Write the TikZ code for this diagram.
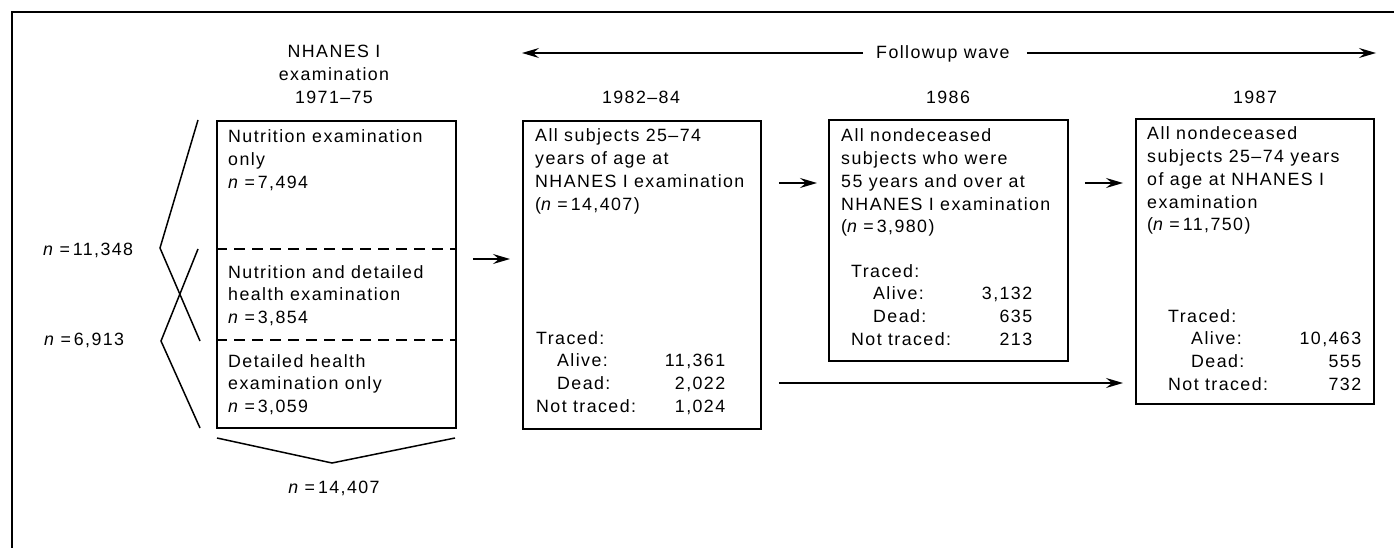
\documentclass[tikz,border=0pt]{standalone}
\usepackage{fontspec}
\setmainfont{Liberation Sans}[LetterSpace=8]
\usetikzlibrary{arrows.meta}
\newcommand\nval[1]{\textit{n}\hspace{5pt}=\hspace{3pt}#1}
\begin{document}
\begin{tikzpicture}[x=1pt,y=-1pt,
  txt/.style={inner sep=0pt, font=\fontsize{17.8pt}{22.7pt}\selectfont},
  box/.style={draw, line width=1.8pt, fill=white, anchor=north west, inner sep=0pt},
  ln/.style={line width=1.5pt},
  arr/.style={line width=1.5pt, -{Stealth[length=17pt,width=10pt,inset=6pt]}},
  dsh/.style={line width=1.3pt, dash pattern=on 11pt off 7pt}]
\useasboundingbox (0,0) rectangle (1394,548);
% frame
\draw[line width=2pt] (12,548) -- (12,12) -- (1394,12);

% headings
\node[txt, anchor=base] (h1) at (334,58) {\begin{tabular}[t]{@{}c@{}}NHANES I\\ examination\\ 1971–75\end{tabular}};
\node[txt, anchor=base] (h2) at (641,104) {1982–84};
\node[txt, anchor=base] (h3) at (948,104) {1986};
\node[txt, anchor=base] (h4) at (1255,104) {1987};
\node[txt, anchor=base west] (fw) at (876,59) {Followup wave};
\coordinate (fwl) at (522,53);
\coordinate (fwr) at (1376,53);
\draw[arr] ([xshift=-13pt]fw.west |- fwl) -- (fwl);
\draw[arr] ([xshift=17pt]fw.east |- fwr) -- (fwr);

% boxes
\node[box, minimum width=239pt, minimum height=307pt] (box1) at (216,120) {};
\node[box, minimum width=238pt, minimum height=308pt] (box2) at (522,120) {};
\node[box, minimum width=239pt, minimum height=241pt] (box3) at (828,119) {};
\node[box, minimum width=238pt, minimum height=285pt] (box4) at (1135,118) {};

% dashed separators
\draw[dsh] ([yshift=-129pt]box1.north west) -- ([yshift=-129pt]box1.north east);
\draw[dsh] ([yshift=-220pt]box1.north west) -- ([yshift=-220pt]box1.north east);

% box1 texts
\node[txt, anchor=base west] (b1a) at (228,143) {\begin{tabular}[t]{@{}l@{}}Nutrition examination\\ only\\ \nval{7,494}\end{tabular}};
\node[txt, anchor=base west] (b1b) at (228,278) {\begin{tabular}[t]{@{}l@{}}Nutrition and detailed\\ health examination\\ \nval{3,854}\end{tabular}};
\node[txt, anchor=base west] (b1c) at (228,367) {\begin{tabular}[t]{@{}l@{}}Detailed health\\ examination only\\ \nval{3,059}\end{tabular}};

% braces
\coordinate (ba1) at (198,120); \coordinate (ba2) at (160,248); \coordinate (ba3) at (200,341);
\coordinate (bb1) at (198,249); \coordinate (bb2) at (161,341); \coordinate (bb3) at (200,428);
\draw[ln] (ba1) -- (ba2) -- (ba3);
\draw[ln] (bb1) -- (bb2) -- (bb3);
\coordinate (c1) at (217,438); \coordinate (c2) at (332,463); \coordinate (c3) at (455,438);
\draw[ln] (c1) -- (c2) -- (c3);
\node[txt, anchor=base west] (n1) at (43,255) {\nval{11,348}};
\node[txt, anchor=base west] (n2) at (44,345) {\nval{6,913}};
\node[txt, anchor=base] (n3) at (334,493) {\nval{14,407}};

% box2 texts
\node[txt, anchor=base west] (b2a) at (535,142) {\begin{tabular}[t]{@{}l@{}}All subjects 25–74\\ years of age at\\ NHANES I examination\\ (\nval{14,407})\end{tabular}};
\node[txt, anchor=base west] (b2b) at (536,344) {\begin{tabular}[t]{@{}l@{}}Traced:\\
 \makebox[189pt][l]{\hspace{21pt}Alive:\hfill 11,361}\\
 \makebox[189pt][l]{\hspace{21pt}Dead:\hfill 2,022}\\
 \makebox[189pt][l]{Not traced:\hfill 1,024}\end{tabular}};

% box3 texts
\node[txt, anchor=base west] (b3a) at (841,142) {\begin{tabular}[t]{@{}l@{}}All nondeceased\\ subjects who were\\ 55 years and over at\\ NHANES I examination\\ (\nval{3,980})\end{tabular}};
\node[txt, anchor=base west] (b3b) at (851,277) {\begin{tabular}[t]{@{}l@{}}Traced:\\
 \makebox[181pt][l]{\hspace{22pt}Alive:\hfill 3,132}\\
 \makebox[181pt][l]{\hspace{22pt}Dead:\hfill 635}\\
 \makebox[181pt][l]{Not traced:\hfill 213}\end{tabular}};

% box4 texts
\node[txt, anchor=base west] (b4a) at (1147,140) {\begin{tabular}[t]{@{}l@{}}All nondeceased\\ subjects 25–74 years\\ of age at NHANES I\\ examination\\ (\nval{11,750})\end{tabular}};
\node[txt, anchor=base west] (b4b) at (1168,322) {\begin{tabular}[t]{@{}l@{}}Traced:\\
 \makebox[193pt][l]{\hspace{23pt}Alive:\hfill 10,463}\\
 \makebox[193pt][l]{\hspace{23pt}Dead:\hfill 555}\\
 \makebox[193pt][l]{Not traced:\hfill 732}\end{tabular}};

% connectors
\draw[arr] ([xshift=16pt,yshift=-139pt]box1.north east) -- ([xshift=-12pt,yshift=-139pt]box2.north west);
\draw[arr] ([xshift=17pt,yshift=-63pt]box2.north east) -- ([xshift=-11pt,yshift=-64pt]box3.north west);
\draw[arr] ([xshift=16pt,yshift=-64pt]box3.north east) -- ([xshift=-12pt,yshift=-65pt]box4.north west);
\draw[arr] ([xshift=17pt,yshift=-263pt]box2.north east) -- ([xshift=-12pt,yshift=-265pt]box4.north west);
\end{tikzpicture}
\end{document}
